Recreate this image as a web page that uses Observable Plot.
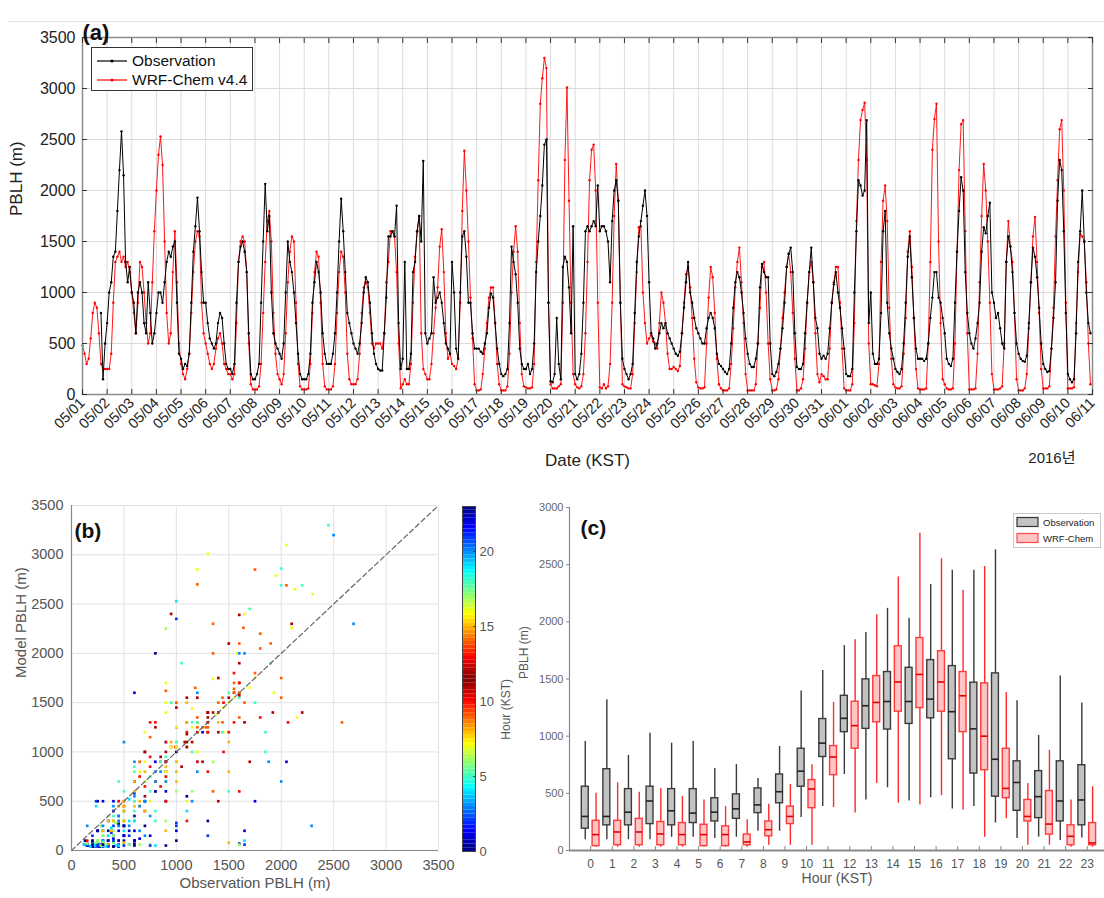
<!DOCTYPE html>
<html>
<head>
<meta charset="utf-8">
<script src="https://cdn.jsdelivr.net/npm/d3@7"></script>
<script src="https://cdn.jsdelivr.net/npm/@observablehq/plot@0.6"></script>
<style>
  body { margin: 0; background: #fff; }
  #fig { position: relative; width: 1104px; height: 898px; overflow: hidden; background: #fff;
         font-family: "Liberation Sans", Arial, Helvetica, sans-serif; }
  .panel { position: absolute; }
  .panel svg { overflow: visible; }
  .topline { position: absolute; left: 8px; top: 21px; width: 1096px; height: 1px; background: #e4e4e4; }
  .legA { position: absolute; left: 91px; top: 47px; width: 160px; height: 42px; border: 1px solid #333;
          background: #fff; font-size: 15.5px; color: #111; }
  .legA .row { position: absolute; left: 3px; height: 20px; display: flex; align-items: center; }
  .legA .row span { margin-left: 3px; }
  .legC { position: absolute; left: 1013px; top: 513px; width: 86px; height: 33px; border: 1px solid #c8c8c8;
          background: #fff; font-size: 9.5px; color: #222; }
  .legC .row { position: absolute; left: 2px; height: 12px; display: flex; align-items: center; }
  .legC .row span { margin-left: 3px; }
</style>
</head>
<body>
<div id="fig">
  <div class="topline"></div>
  <div class="panel" id="pa" style="left:0;top:0"></div>
  <div class="panel" id="pb" style="left:0;top:490px"></div>
  <div class="panel" id="pcb" style="left:440px;top:490px"></div>
  <div class="panel" id="pc" style="left:500px;top:490px"></div>
  <div class="legA">
    <div class="row" style="top:3px"><svg width="34" height="20"><line x1="2" y1="10" x2="32" y2="10" stroke="#000" stroke-width="1.2"/><circle cx="17" cy="10" r="1.6" fill="#000"/></svg><span>Observation</span></div>
    <div class="row" style="top:22px"><svg width="34" height="20"><line x1="2" y1="10" x2="32" y2="10" stroke="#f00" stroke-width="1.2"/><circle cx="17" cy="10" r="1.6" fill="#f00"/></svg><span>WRF-Chem v4.4</span></div>
  </div>
  <div class="legC">
    <div class="row" style="top:2px"><svg width="24" height="12"><rect x="1" y="1.5" width="21" height="9" fill="#c4c4c4" stroke="#333" stroke-width="1.2"/></svg><span>Observation</span></div>
    <div class="row" style="top:18px"><svg width="24" height="12"><rect x="1" y="1.5" width="21" height="9" fill="#ffc4c4" stroke="#ff4a4a" stroke-width="1.2"/></svg><span>WRF-Chem</span></div>
  </div>
</div>
<script>
// ---------------- DATA ----------------
const dateLabels = ["05/01","05/02","05/03","05/04","05/05","05/06","05/07","05/08","05/09","05/10",
  "05/11","05/12","05/13","05/14","05/15","05/16","05/17","05/18","05/19","05/20",
  "05/21","05/22","05/23","05/24","05/25","05/26","05/27","05/28","05/29","05/30",
  "05/31","06/01","06/02","06/03","06/04","06/05","06/06","06/07","06/08","06/09","06/10","06/11"];
const sampleHours = [0,2,4,6,8,10,12,14,16,18,20,22];
const pblhTicks = [0,500,1000,1500,2000,2500,3000,3500];
const boxTicks = [0,500,1000,1500,2000,2500,3000];
const hourBarTicks = [0,5,10,15,20];

// Observed PBLH (m), one row per day (05/01 .. 06/10), at sampleHours
const obsDays = [
  [null,null,null,null,null,null,null,null,null,800,150,500],
  [700,1000,1100,1350,1400,1800,2200,2580,2150,1300,1100,1250],
  [1000,900,600,1000,1100,1000,700,600,1100,800,500,600],
  [800,1000,1000,900,1100,1300,1400,1350,1450,1500,900,400],
  [350,250,300,280,400,900,1400,1650,1930,1600,1200,900],
  [900,700,550,500,450,500,700,800,750,500,300,250],
  [250,200,300,900,1300,1450,1500,1400,1200,600,200,150],
  [150,200,300,900,1500,2065,1600,1750,1000,600,500,450],
  [400,350,500,1000,1500,1300,1200,1000,700,400,200,150],
  [150,150,200,400,900,1100,1300,1200,1000,600,400,300],
  [300,300,400,600,1000,1500,1920,1600,1200,800,700,600],
  [500,450,400,500,700,1000,1150,1100,900,600,400,300],
  [250,235,235,600,950,1550,1550,1600,1550,1850,700,250],
  [350,1300,250,250,400,1200,1300,1600,1750,1500,2290,600],
  [500,550,600,1150,900,950,1000,900,700,500,450,400],
  [1300,1000,450,350,1000,1550,1600,1350,900,900,600,450],
  [450,450,420,400,500,600,850,990,950,700,450,300],
  [200,180,200,250,700,1450,1300,1180,900,450,300,250],
  [250,300,200,250,500,1200,1500,1750,2050,2450,2500,900],
  [130,120,200,750,300,150,1250,1350,1300,1050,600,1650],
  [200,150,200,400,900,1600,1650,1600,1650,1700,1650,2050],
  [1600,1650,1650,1600,1500,1100,1700,2000,2100,1900,900,350],
  [250,200,150,200,300,800,1300,1550,1700,1850,2000,1750],
  [1100,600,550,450,500,600,700,650,700,600,550,500],
  [450,400,380,420,600,850,1100,1300,1000,900,750,650],
  [600,550,500,500,650,750,800,750,650,400,300,280],
  [250,220,200,250,500,850,1100,1200,1150,1000,800,550],
  [400,300,270,270,350,500,1050,1280,1200,1150,1150,500],
  [200,180,220,300,450,650,900,1250,1380,1440,1200,600],
  [270,250,250,300,600,900,1200,1440,1100,750,650,400],
  [350,380,350,400,650,900,1080,1200,1000,850,650,450],
  [200,180,180,250,1000,1600,2100,2050,1950,2000,2690,700],
  [1000,400,300,300,350,800,1600,1800,900,600,450,350],
  [250,220,200,250,500,900,1350,1550,1150,750,450,350],
  [350,350,330,350,500,750,950,1200,1200,950,900,750],
  [600,350,300,280,350,900,1400,1800,2130,2000,1200,800],
  [600,500,450,550,700,900,1400,1640,1580,1750,1880,1000],
  [900,750,800,650,500,450,1300,1550,1450,1200,800,500],
  [400,350,330,320,380,700,1100,1440,1350,1150,850,500],
  [300,250,220,230,450,750,1100,1900,2300,2200,1600,800],
  [200,150,120,150,600,1300,1600,2000,1500,1000,700,600]
];

// WRF-Chem v4.4 PBLH (m), same layout
const modDays = [
  [480,400,300,350,550,800,900,850,600,300,250,250],
  [250,250,400,900,1300,1350,1400,1300,1350,1250,1300,1200],
  [1000,800,600,900,1300,1250,1000,700,500,600,1100,1600],
  [2000,2350,2530,2250,1500,800,500,600,1200,1600,1100,500],
  [300,200,150,250,400,800,1200,1500,1600,1550,900,600],
  [500,400,300,250,300,450,550,600,500,300,250,200],
  [200,150,200,700,1300,1500,1550,1500,1200,500,100,50],
  [50,50,80,300,800,1300,1700,1800,1500,800,400,200],
  [150,100,200,600,1100,1400,1550,1500,900,300,80,50],
  [50,50,60,300,800,1200,1400,1350,900,300,80,50],
  [50,50,80,300,800,1200,1400,1350,1000,400,150,100],
  [100,100,150,400,800,1050,1100,1050,800,500,450,500],
  [500,500,450,600,1100,1300,1600,1600,1550,1200,500,60],
  [100,150,100,100,300,900,1350,1600,1750,600,250,200],
  [150,150,300,600,850,1050,1450,1620,1200,600,350,400],
  [300,280,250,350,900,1800,2390,2000,1500,950,550,100],
  [40,40,50,200,450,700,950,1050,1050,700,300,100],
  [40,40,40,80,400,1000,1400,1650,1400,700,200,80],
  [70,60,60,70,300,1300,2100,2850,3100,3300,3200,900],
  [100,60,60,60,80,100,900,2300,3010,1900,900,200],
  [100,70,60,80,200,600,1300,2100,2400,2450,2000,900],
  [70,60,100,60,80,300,900,1750,2260,1900,900,100],
  [80,70,60,60,200,700,1200,1640,1650,1000,700,500],
  [550,580,520,500,450,700,1000,900,700,400,250,250],
  [270,250,230,280,600,900,1180,1250,1050,750,350,120],
  [70,60,60,70,500,950,1250,1150,800,350,100,60],
  [40,40,40,60,300,650,1050,1300,1440,1100,700,200],
  [40,40,40,40,100,500,850,1250,1300,1000,500,150],
  [40,40,50,150,450,750,1000,1250,1380,1200,800,350],
  [40,40,60,150,450,900,1200,1300,1100,600,200,120],
  [200,180,150,150,450,900,1100,1250,1250,900,450,60],
  [40,40,40,100,700,1700,2300,2690,2790,2860,2300,500],
  [100,100,90,80,300,1300,1900,2050,1700,850,350,100],
  [70,60,60,80,400,750,1400,1600,1250,750,250,60],
  [50,50,50,60,500,1300,2400,2700,2850,1500,700,150],
  [100,60,50,50,60,500,1400,2200,2650,2690,1600,600],
  [50,50,50,60,400,1100,1750,2260,2000,1500,900,200],
  [50,50,50,60,80,500,1300,1700,1450,1300,800,150],
  [40,40,40,60,200,650,1100,1550,1740,1300,800,250],
  [60,60,60,80,450,850,1550,2100,2600,2690,2000,900],
  [60,60,60,70,700,1200,1575,1550,1500,1100,500,100]
];

// Hourly box statistics (panel c)
const boxHours = d3.range(24);
const obsMin = [95,95,95,95,116,116,104,116,168,168,289,384,665,442,549,433,462,364,384,240,104,116,87,110];
const obsQ1  = [191,220,220,231,220,240,254,277,327,413,558,818,1035,1064,1058,1107,1156,798,673,471,347,283,254,220];
const obsMed = [298,298,335,433,347,327,335,364,399,514,694,939,1156,1266,1303,1303,1324,1214,1064,798,595,471,433,442];
const obsQ3  = [558,711,537,558,537,537,457,491,543,665,890,1150,1353,1497,1561,1598,1665,1613,1468,1549,780,694,780,746];
const obsMax = [954,1318,832,1026,939,954,717,751,630,910,1396,1575,1792,1907,2118,2032,2326,2451,2451,2630,1309,1006,1526,1289];
const modMin = [29,29,29,29,29,29,29,29,46,46,46,376,327,587,413,399,480,355,116,277,46,46,29,29];
const modQ1  = [38,46,46,46,46,38,38,46,124,231,370,659,890,1121,1214,1246,1214,1035,702,457,254,139,46,46];
const modMed = [139,162,162,145,139,139,139,75,182,298,538,818,1092,1295,1474,1540,1474,1353,1000,543,298,231,124,66];
const modQ3  = [260,260,277,249,240,225,211,139,254,384,616,913,1301,1526,1786,1858,1743,1561,1462,890,442,520,220,240];
const modMax = [500,592,509,543,471,442,384,269,405,578,751,1295,1844,2061,2393,2774,2552,2277,2485,1381,587,876,442,558];

// ---------------- HELPERS ----------------
function jet(t) {
  const c = v => Math.max(0, Math.min(1, v));
  const r = c(1.5 - Math.abs(4 * t - 3)), g = c(1.5 - Math.abs(4 * t - 2)), b = c(1.5 - Math.abs(4 * t - 1));
  return `rgb(${Math.round(r * 255)},${Math.round(g * 255)},${Math.round(b * 255)})`;
}
const hourInterp = t => jet(1 - Math.abs(2 * t - 1));
const hourColor = {type: "linear", domain: [0, 23], interpolate: hourInterp};
const font = "'Liberation Sans', Arial, Helvetica, sans-serif";
const blank = () => "";
const plain = d3.format("d");

const days = d3.range(dateLabels.length);
const series = [];
obsDays.forEach((row, d) => row.forEach((v, i) => {
  series.push({t: d + sampleHours[i] / 24, hour: sampleHours[i], obs: v, mod: modDays[d][i]});
}));
const pairs = series.filter(d => d.obs != null && d.mod != null);

// ---------------- PANEL (a) ----------------
const pa = Plot.plot({
  width: 1104, height: 480, marginLeft: 82, marginRight: 12, marginTop: 37, marginBottom: 86,
  style: {fontFamily: font, fontSize: "14px", color: "#222", background: "transparent", overflow: "visible"},
  x: {domain: [0, dateLabels.length - 1]},
  y: {domain: [0, 3500]},
  marks: [
    Plot.gridX(days, {stroke: "#dcdcdc", strokeOpacity: 1}),
    Plot.gridY(pblhTicks, {stroke: "#dcdcdc", strokeOpacity: 1}),
    Plot.line(series, {x: "t", y: "mod", stroke: "#ff0000", strokeWidth: 1, strokeOpacity: 0.9}),
    Plot.dot(series, {x: "t", y: "mod", r: 1.2, fill: "#ff0000"}),
    Plot.line(series, {x: "t", y: "obs", stroke: "#000", strokeWidth: 1}),
    Plot.dot(series, {x: "t", y: "obs", r: 1.2, fill: "#000"}),
    Plot.frame({stroke: "#8c8c8c", strokeWidth: 1.5}),
    Plot.axisY(pblhTicks, {anchor: "left", tickSize: 0, tickPadding: 7, fontSize: 16, label: null, tickFormat: plain}),
    Plot.axisY(pblhTicks, {anchor: "left", tickSize: -5, tickFormat: blank, label: null, stroke: "#333"}),
    Plot.axisY(pblhTicks, {anchor: "right", tickSize: -5, tickFormat: blank, label: null, stroke: "#333"}),
    Plot.axisX(days, {anchor: "bottom", tickSize: 0, tickPadding: 6, tickRotate: -45,
      tickFormat: i => dateLabels[i], fontSize: 14.5, label: null}),
    Plot.axisX(days, {anchor: "bottom", tickSize: -5, tickFormat: blank, label: null, stroke: "#333"}),
    Plot.axisX(days, {anchor: "top", tickSize: -5, tickFormat: blank, label: null, stroke: "#333"}),
    Plot.text(["PBLH (m)"], {frameAnchor: "left", dx: -66, rotate: -90, fontSize: 17}),
    Plot.text(["Date (KST)"], {frameAnchor: "bottom", dy: 71, fontSize: 17}),
    Plot.text(["2016년"], {frameAnchor: "bottom-right", dx: -17, dy: 68, textAnchor: "end", fontSize: 15,
      fontFamily: "'Liberation Sans', 'Noto Sans CJK KR', sans-serif"}),
    Plot.text(["(a)"], {frameAnchor: "top-left", dy: -13, textAnchor: "start", fontSize: 22, fontWeight: "bold", fill: "#111"})
  ]
});
document.getElementById("pa").append(pa);

// ---------------- PANEL (b) ----------------
const oneToOne = [0, 3500];
const pb = Plot.plot({
  width: 460, height: 408, marginLeft: 71, marginRight: 22, marginTop: 15, marginBottom: 48,
  style: {fontFamily: font, fontSize: "14px", color: "#333", background: "transparent", overflow: "visible"},
  x: {domain: [0, 3500]},
  y: {domain: [0, 3500]},
  color: hourColor,
  marks: [
    Plot.gridX(pblhTicks, {stroke: "#e2e2e2", strokeOpacity: 1}),
    Plot.gridY(pblhTicks, {stroke: "#e2e2e2", strokeOpacity: 1}),
    Plot.dot(pairs, {x: "obs", y: "mod", fill: "hour", r: 1.5, symbol: "square"}),
    Plot.line(oneToOne, {x: d => d, y: d => d, stroke: "#666", strokeWidth: 1.2, strokeDasharray: "5,3"}),
    Plot.ruleX([0], {stroke: "#888", strokeWidth: 1.2}),
    Plot.ruleY([0], {stroke: "#888", strokeWidth: 1.2}),
    Plot.axisX(pblhTicks, {tickSize: 0, tickPadding: 9, fontSize: 14.5, label: null, fill: "#555", tickFormat: plain}),
    Plot.axisY(pblhTicks, {tickSize: 0, tickPadding: 8, fontSize: 14.5, label: null, fill: "#555", tickFormat: plain}),
    Plot.text(["Observation PBLH (m)"], {frameAnchor: "bottom", dy: 37, fontSize: 15, fill: "#555"}),
    Plot.text(["Model PBLH (m)"], {frameAnchor: "left", dx: -50, rotate: -90, fontSize: 15, fill: "#555"}),
    Plot.text(["(b)"], {frameAnchor: "top-left", dx: 3, dy: 18, textAnchor: "start", fontSize: 21, fontWeight: "bold", fill: "#111"})
  ]
});
document.getElementById("pb").append(pb);

// ---------------- COLORBAR ----------------
const cbStep = 0.25;
const cbSteps = d3.range(0, 23, cbStep);
const cb = Plot.plot({
  width: 80, height: 408, marginLeft: 22, marginRight: 45, marginTop: 16, marginBottom: 47,
  style: {fontFamily: font, fontSize: "13px", color: "#444", background: "transparent", overflow: "visible"},
  y: {domain: [0, 23]},
  color: hourColor,
  marks: [
    Plot.rect(cbSteps, {y1: d => d, y2: d => d + cbStep, fill: d => d + cbStep / 2}),
    Plot.frame({stroke: "#444", strokeWidth: 1}),
    Plot.axisY(hourBarTicks, {anchor: "right", tickSize: 0, tickPadding: 4, fontSize: 13, label: null, fill: "#555"}),
    Plot.axisY(hourBarTicks, {anchor: "right", tickSize: -3, tickFormat: blank, label: null, stroke: "#444"}),
    Plot.text(["Hour (KST)"], {frameAnchor: "right", dx: 31, rotate: -90, fontSize: 12, fill: "#555"})
  ]
});
document.getElementById("pcb").append(cb);

// ---------------- PANEL (c) ----------------
const obsBoxes = boxHours.map((h, i) => ({hour: h, min: obsMin[i], q1: obsQ1[i], med: obsMed[i], q3: obsQ3[i], max: obsMax[i]}));
const modBoxes = boxHours.map((h, i) => ({hour: h, min: modMin[i], q1: modQ1[i], med: modMed[i], q3: modQ3[i], max: modMax[i]}));
const xDomainC = [-0.98, 23.8];
const off = 0.25, half = 0.16;
const pc = Plot.plot({
  width: 604, height: 408, marginLeft: 69, marginRight: 0, marginTop: 17, marginBottom: 48,
  style: {fontFamily: font, fontSize: "12px", color: "#444", background: "transparent", overflow: "visible"},
  x: {domain: xDomainC},
  y: {domain: [0, 3000]},
  marks: [
    Plot.ruleX(obsBoxes, {x: d => d.hour - off, y1: "min", y2: "max", stroke: "#3a3a3a", strokeWidth: 1.4}),
    Plot.rect(obsBoxes, {x1: d => d.hour - off - half, x2: d => d.hour - off + half, y1: "q1", y2: "q3",
      fill: "#c2c2c2", stroke: "#3a3a3a", strokeWidth: 1.4}),
    Plot.ruleY(obsBoxes, {y: "med", x1: d => d.hour - off - half, x2: d => d.hour - off + half, stroke: "#222", strokeWidth: 1.6}),
    Plot.ruleX(modBoxes, {x: d => d.hour + off, y1: "min", y2: "max", stroke: "#ff2a2a", strokeWidth: 1.4}),
    Plot.rect(modBoxes, {x1: d => d.hour + off - half, x2: d => d.hour + off + half, y1: "q1", y2: "q3",
      fill: "#ffc4c4", stroke: "#ff3a3a", strokeWidth: 1.4}),
    Plot.ruleY(modBoxes, {y: "med", x1: d => d.hour + off - half, x2: d => d.hour + off + half, stroke: "#e00000", strokeWidth: 1.6}),
    Plot.ruleX([xDomainC[0]], {stroke: "#888", strokeWidth: 1.2}),
    Plot.ruleY([0], {stroke: "#888", strokeWidth: 1.8}),
    Plot.axisY(boxTicks, {tickSize: 3, tickPadding: 3, fontSize: 11, label: null, fill: "#666", stroke: "#888", tickFormat: plain}),
    Plot.axisX(boxHours, {tickSize: 0, tickPadding: 9, fontSize: 12, label: null, fill: "#555"}),
    Plot.axisX(boxHours, {tickSize: -4, tickFormat: blank, label: null, stroke: "#888"}),
    Plot.text(["Hour (KST)"], {frameAnchor: "bottom", dy: 32, fontSize: 14, fill: "#555"}),
    Plot.text(["PBLH (m)"], {frameAnchor: "left", dx: -45, rotate: -90, fontSize: 12, fill: "#555"}),
    Plot.text(["(c)"], {frameAnchor: "top-left", dx: 11, dy: 13, textAnchor: "start", fontSize: 21, fontWeight: "bold", fill: "#111"})
  ]
});
document.getElementById("pc").append(pc);
</script>
</body>
</html>
